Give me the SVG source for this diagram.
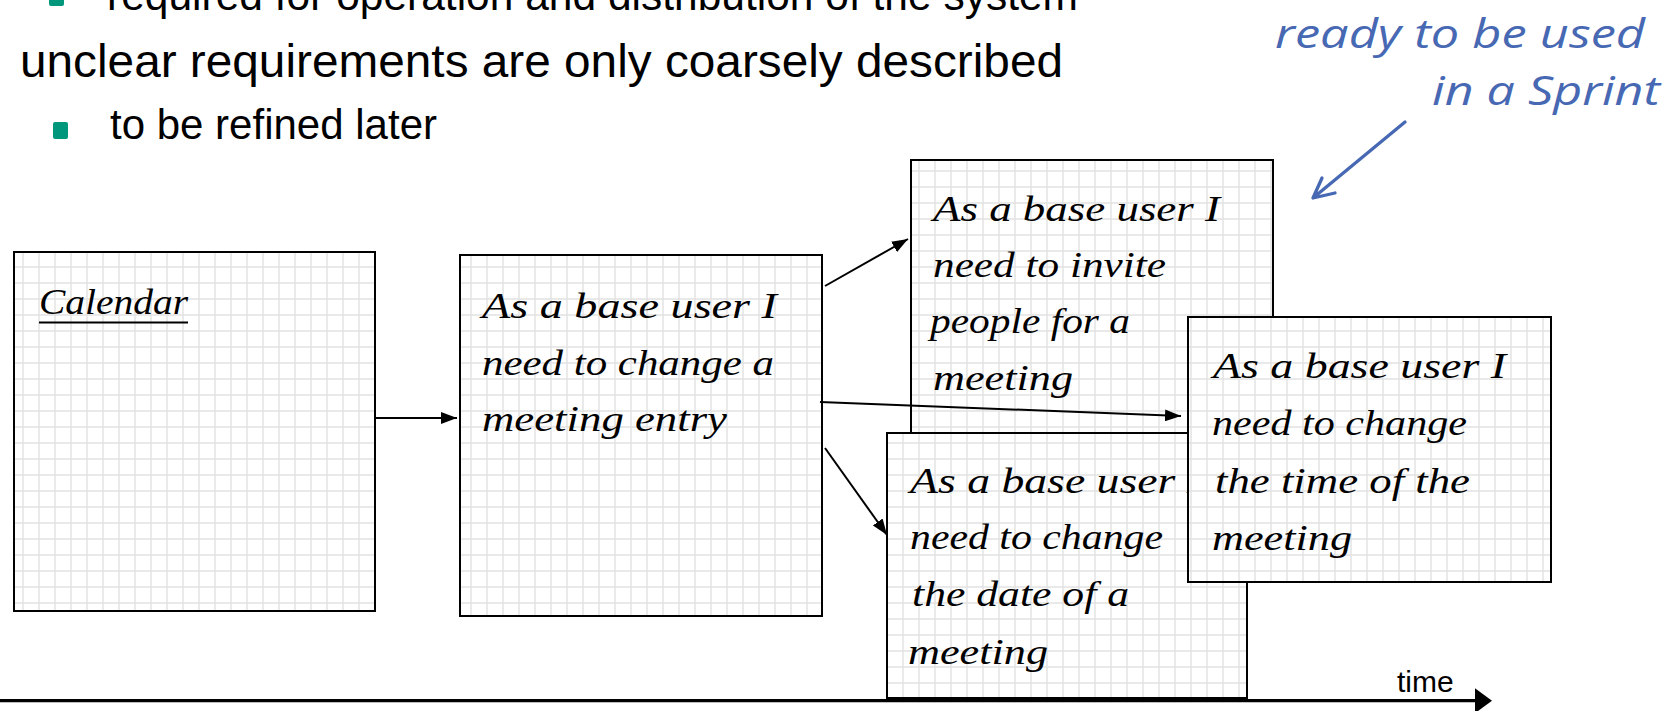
<svg xmlns="http://www.w3.org/2000/svg" width="1670" height="711" viewBox="0 0 1670 711">
  <style>
    .bullet-text { font-family: "Liberation Sans", Arial, sans-serif; fill: #000; }
    .card { stroke: #000; stroke-width: 2; fill: url(#grid); }
    .story { font-family: "Liberation Serif", "Times New Roman", serif; font-style: italic; font-size: 36px; fill: #000; }
    .conn { stroke: #000; stroke-width: 2; fill: none; marker-end: url(#arrow); }
    .note { font-family: "Open Sans", "DejaVu Sans", sans-serif; font-style: italic; font-size: 41px; fill: #4768b3; }
  </style>
  <defs>
    <!-- light squared-paper fill shared by all cards -->
    <pattern id="grid" patternUnits="userSpaceOnUse" x="-1" y="3" width="16" height="16">
      <rect width="16" height="16" fill="#fff"/>
      <path d="M8,0 V16 M0,8 H16" stroke="#e2e2e2" stroke-width="1.4" fill="none"/>
    </pattern>
    <marker id="arrow" markerUnits="userSpaceOnUse" markerWidth="16" markerHeight="12" refX="16" refY="6" orient="auto">
      <path d="M0,0 L16,6 L0,12 z" fill="#000"/>
    </marker>
    <marker id="axisHead" markerUnits="userSpaceOnUse" markerWidth="17" markerHeight="25" refX="1" refY="12.5" orient="auto">
      <path d="M0,0 L17,12.5 L0,25 z" fill="#000"/>
    </marker>
  </defs>

  <!-- bullet list -->
  <g id="text-list">
    <rect x="49" y="-11" width="15" height="17" rx="2" fill="#00977d"/>
    <text class="bullet-text" x="107" y="10" font-size="42" textLength="971" lengthAdjust="spacingAndGlyphs">required for operation and distribution of the system</text>
    <text class="bullet-text" x="20" y="77" font-size="47" textLength="1043" lengthAdjust="spacingAndGlyphs">unclear requirements are only coarsely described</text>
    <rect x="53" y="122" width="15" height="17" rx="2" fill="#00977d"/>
    <text class="bullet-text" x="110" y="139" font-size="42" textLength="327" lengthAdjust="spacingAndGlyphs">to be refined later</text>
  </g>

  <!-- annotation -->
  <g id="note-sprint">
    <text class="note" x="1275" y="48" textLength="370" lengthAdjust="spacingAndGlyphs">ready to be used</text>
    <text class="note" x="1432" y="105" textLength="228" lengthAdjust="spacingAndGlyphs">in a Sprint</text>
    <path d="M1405,122 L1313,198 M1322,178 L1313,198 L1335,193" stroke="#4768b3" stroke-width="3.3" stroke-linecap="round" stroke-linejoin="round" fill="none"/>
  </g>

  <!-- story cards -->
  <g id="card-calendar">
    <rect class="card" x="14" y="252" width="361" height="359"/>
    <text class="story" x="39" y="314" textLength="149" lengthAdjust="spacingAndGlyphs">Calendar</text>
    <line x1="39" y1="322.5" x2="188" y2="322.5" stroke="#000" stroke-width="2"/>
  </g>

  <g id="card-change-entry">
    <rect class="card" x="460" y="255" width="362" height="361"/>
    <text class="story" x="482" y="318" textLength="295" lengthAdjust="spacingAndGlyphs">As a base user I</text>
    <text class="story" x="482" y="375" textLength="292" lengthAdjust="spacingAndGlyphs">need to change a</text>
    <text class="story" x="482" y="431" textLength="245" lengthAdjust="spacingAndGlyphs">meeting entry</text>
  </g>

  <g id="card-invite">
    <rect class="card" x="911" y="160" width="362" height="360"/>
    <text class="story" x="933" y="221" textLength="287" lengthAdjust="spacingAndGlyphs">As a base user I</text>
    <text class="story" x="933" y="277" textLength="233" lengthAdjust="spacingAndGlyphs">need to invite</text>
    <text class="story" x="930" y="333" textLength="200" lengthAdjust="spacingAndGlyphs">people for a</text>
    <text class="story" x="933" y="390" textLength="140" lengthAdjust="spacingAndGlyphs">meeting</text>
  </g>

  <g id="card-change-date">
    <rect class="card" x="887" y="433" width="360" height="265"/>
    <text class="story" x="910" y="493" textLength="292" lengthAdjust="spacingAndGlyphs">As a base user I</text>
    <text class="story" x="910" y="549" textLength="253" lengthAdjust="spacingAndGlyphs">need to change</text>
    <text class="story" x="912" y="606" textLength="217" lengthAdjust="spacingAndGlyphs">the date of a</text>
    <text class="story" x="908" y="664" textLength="140" lengthAdjust="spacingAndGlyphs">meeting</text>
  </g>

  <g id="card-change-time">
    <rect class="card" x="1188" y="317" width="363" height="265"/>
    <text class="story" x="1213" y="378" textLength="293" lengthAdjust="spacingAndGlyphs">As a base user I</text>
    <text class="story" x="1212" y="435" textLength="255" lengthAdjust="spacingAndGlyphs">need to change</text>
    <text class="story" x="1215" y="493" textLength="255" lengthAdjust="spacingAndGlyphs">the time of the</text>
    <text class="story" x="1212" y="550" textLength="140" lengthAdjust="spacingAndGlyphs">meeting</text>
  </g>

  <!-- refinement connectors -->
  <g id="connectors">
    <line class="conn" x1="376" y1="418" x2="457" y2="418"/>
    <line class="conn" x1="825" y1="286" x2="908" y2="239"/>
    <line class="conn" x1="820" y1="402" x2="1181" y2="416"/>
    <line class="conn" x1="825" y1="448" x2="887" y2="535"/>
  </g>

  <!-- time axis -->
  <g id="time-axis">
    <line x1="0" y1="700.7" x2="1476" y2="700.7" stroke="#000" stroke-width="3.3" marker-end="url(#axisHead)"/>
    <text class="bullet-text" x="1397" y="692" font-size="30">time</text>
  </g>
</svg>
